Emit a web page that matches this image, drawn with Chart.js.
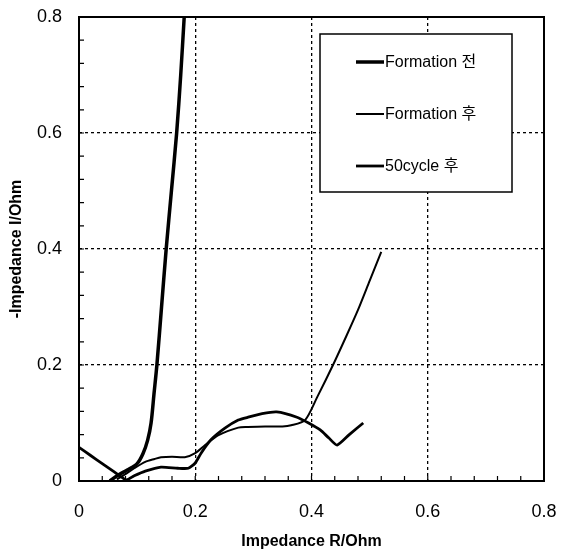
<!DOCTYPE html>
<html lang="ko">
<head>
<meta charset="UTF-8">
<title>Impedance</title>
<script src="https://cdn.jsdelivr.net/npm/chart.js"></script>
<style>
  html, body { margin: 0; padding: 0; background: #fff; }
</style>
</head>
<body>
<canvas id="gf" width="561" height="551"></canvas>
<script>
  // series names
  const nomes = ['Formation 전', 'Formation 후', '50cycle 후']

  // Formation 전 (thick, steep rise)
  const rAntes = [0.053, 0.067, 0.083, 0.1, 0.11, 0.118, 0.124, 0.129, 0.134, 0.142, 0.15, 0.159, 0.168, 0.175, 0.181]
  const iAntes = [0.0, 0.01, 0.019, 0.03, 0.047, 0.07, 0.1, 0.15, 0.2, 0.3, 0.4, 0.5, 0.6, 0.7, 0.8]

  // Formation 후 (thin)
  const rDepois = [0.065, 0.08, 0.095, 0.114, 0.13, 0.141, 0.16, 0.182, 0.2, 0.217, 0.24, 0.274, 0.29, 0.32, 0.35, 0.365, 0.389, 0.41, 0.437, 0.46, 0.48, 0.5, 0.52]
  const iDepois = [0.003, 0.012, 0.022, 0.033, 0.038, 0.041, 0.042, 0.041, 0.048, 0.062, 0.079, 0.092, 0.093, 0.094, 0.094, 0.096, 0.105, 0.145, 0.2, 0.25, 0.295, 0.345, 0.395]

  // 50cycle 후
  const rCiclo = [0.0, 0.02, 0.04, 0.06, 0.081, 0.095, 0.114, 0.141, 0.17, 0.188, 0.2, 0.21, 0.227, 0.251, 0.274, 0.291, 0.315, 0.34, 0.375, 0.395, 0.415, 0.43, 0.444, 0.465, 0.489]
  const iCiclo = [0.058, 0.044, 0.03, 0.016, 0.002, 0.009, 0.017, 0.024, 0.022, 0.022, 0.031, 0.048, 0.071, 0.091, 0.105, 0.11, 0.116, 0.119, 0.11, 0.1, 0.088, 0.074, 0.062, 0.08, 0.1]

  // axis ticks
  const ticksX = [0, 0.2, 0.4, 0.6, 0.8]
  const ticksY = [0, 0.2, 0.4, 0.6, 0.8]

  const fonte = "'Liberation Sans', Arial, 'Noto Sans CJK KR', sans-serif"

  function pontos(rs, is) {
    return rs.map(function (r, k) { return { x: r, y: is[k] } })
  }

  // frame, inner minor ticks and the boxed legend
  const moldura = {
    id: 'moldura',
    afterDatasetsDraw(chart) {
      const { ctx, chartArea: a, scales: { x, y } } = chart
      ctx.save()
      ctx.strokeStyle = '#000'
      ctx.lineWidth = 1.2
      for (let v = 0; v <= 0.8001; v += 0.04) {
        const px = x.getPixelForValue(v)
        const py = y.getPixelForValue(v)
        ctx.beginPath()
        ctx.moveTo(px, a.bottom); ctx.lineTo(px, a.bottom - 5)
        ctx.moveTo(a.left, py); ctx.lineTo(a.left + 5, py)
        ctx.stroke()
      }
      ctx.lineWidth = 2
      ctx.strokeRect(a.left, a.top, a.right - a.left, a.bottom - a.top)

      // legend box
      ctx.fillStyle = '#fff'
      ctx.fillRect(320, 34, 192, 158)
      ctx.lineWidth = 1.5
      ctx.strokeRect(320, 34, 192, 158)
      ctx.font = '16px ' + fonte
      ctx.textBaseline = 'middle'
      ctx.fillStyle = '#000'
      chart.data.datasets.forEach(function (ds, k) {
        const yy = 62 + k * 52
        ctx.lineWidth = ds.borderWidth
        ctx.beginPath()
        ctx.moveTo(356, yy); ctx.lineTo(384, yy)
        ctx.stroke()
        ctx.fillText(ds.label, 385, yy + 1)
      })
      ctx.restore()
    }
  }

  function corGrade(ctx) {
    const v = ctx.tick ? ctx.tick.value : 0
    return (v > 0.001 && v < 0.799) ? '#000' : 'rgba(0,0,0,0)'
  }

  new Chart(document.getElementById('gf'), {
    type: 'line',
    data: {
      datasets: [
        { label: nomes[0], data: pontos(rAntes, iAntes), borderColor: '#000', borderWidth: 3.5, tension: 0.3 },
        { label: nomes[1], data: pontos(rDepois, iDepois), borderColor: '#000', borderWidth: 2, tension: 0.25 },
        { label: nomes[2], data: pontos(rCiclo, iCiclo), borderColor: '#000', borderWidth: 2.8, tension: 0.2 }
      ]
    },
    options: {
      responsive: false,
      animation: false,
      parsing: false,
      elements: { point: { radius: 0 } },
      layout: { padding: { left: 0, top: 17, right: 17, bottom: 0 } },
      plugins: { legend: { display: false }, tooltip: { enabled: false } },
      scales: {
        x: {
          type: 'linear', min: 0, max: 0.8,
          afterBuildTicks: s => { s.ticks = ticksX.map(v => ({ value: v })) },
          afterFit: s => { s.height = 70; s.paddingLeft = 0; s.paddingRight = 0 },
          grid: { color: corGrade, lineWidth: 1.3, drawTicks: false },
          border: { display: false, dash: [3, 3] },
          ticks: { color: '#000', padding: 20, font: { family: fonte, size: 18 }, callback: v => String(+v.toFixed(1)) },
          title: { display: true, text: 'Impedance R/Ohm', color: '#000', padding: 0, font: { family: fonte, size: 16, weight: 'bold' } }
        },
        y: {
          type: 'linear', min: 0, max: 0.8,
          afterBuildTicks: s => { s.ticks = ticksY.map(v => ({ value: v })) },
          afterFit: s => { s.width = 79; s.paddingTop = 0; s.paddingBottom = 0 },
          grid: { color: corGrade, lineWidth: 1.3, drawTicks: false },
          border: { display: false, dash: [3, 3] },
          ticks: { color: '#000', padding: 17, font: { family: fonte, size: 18 }, callback: v => String(+v.toFixed(1)) },
          title: { display: true, text: '-Impedance I/Ohm', color: '#000', padding: { top: 7, bottom: 0 }, font: { family: fonte, size: 16, weight: 'bold' } }
        }
      }
    },
    plugins: [moldura]
  })
</script>
</body>
</html>
